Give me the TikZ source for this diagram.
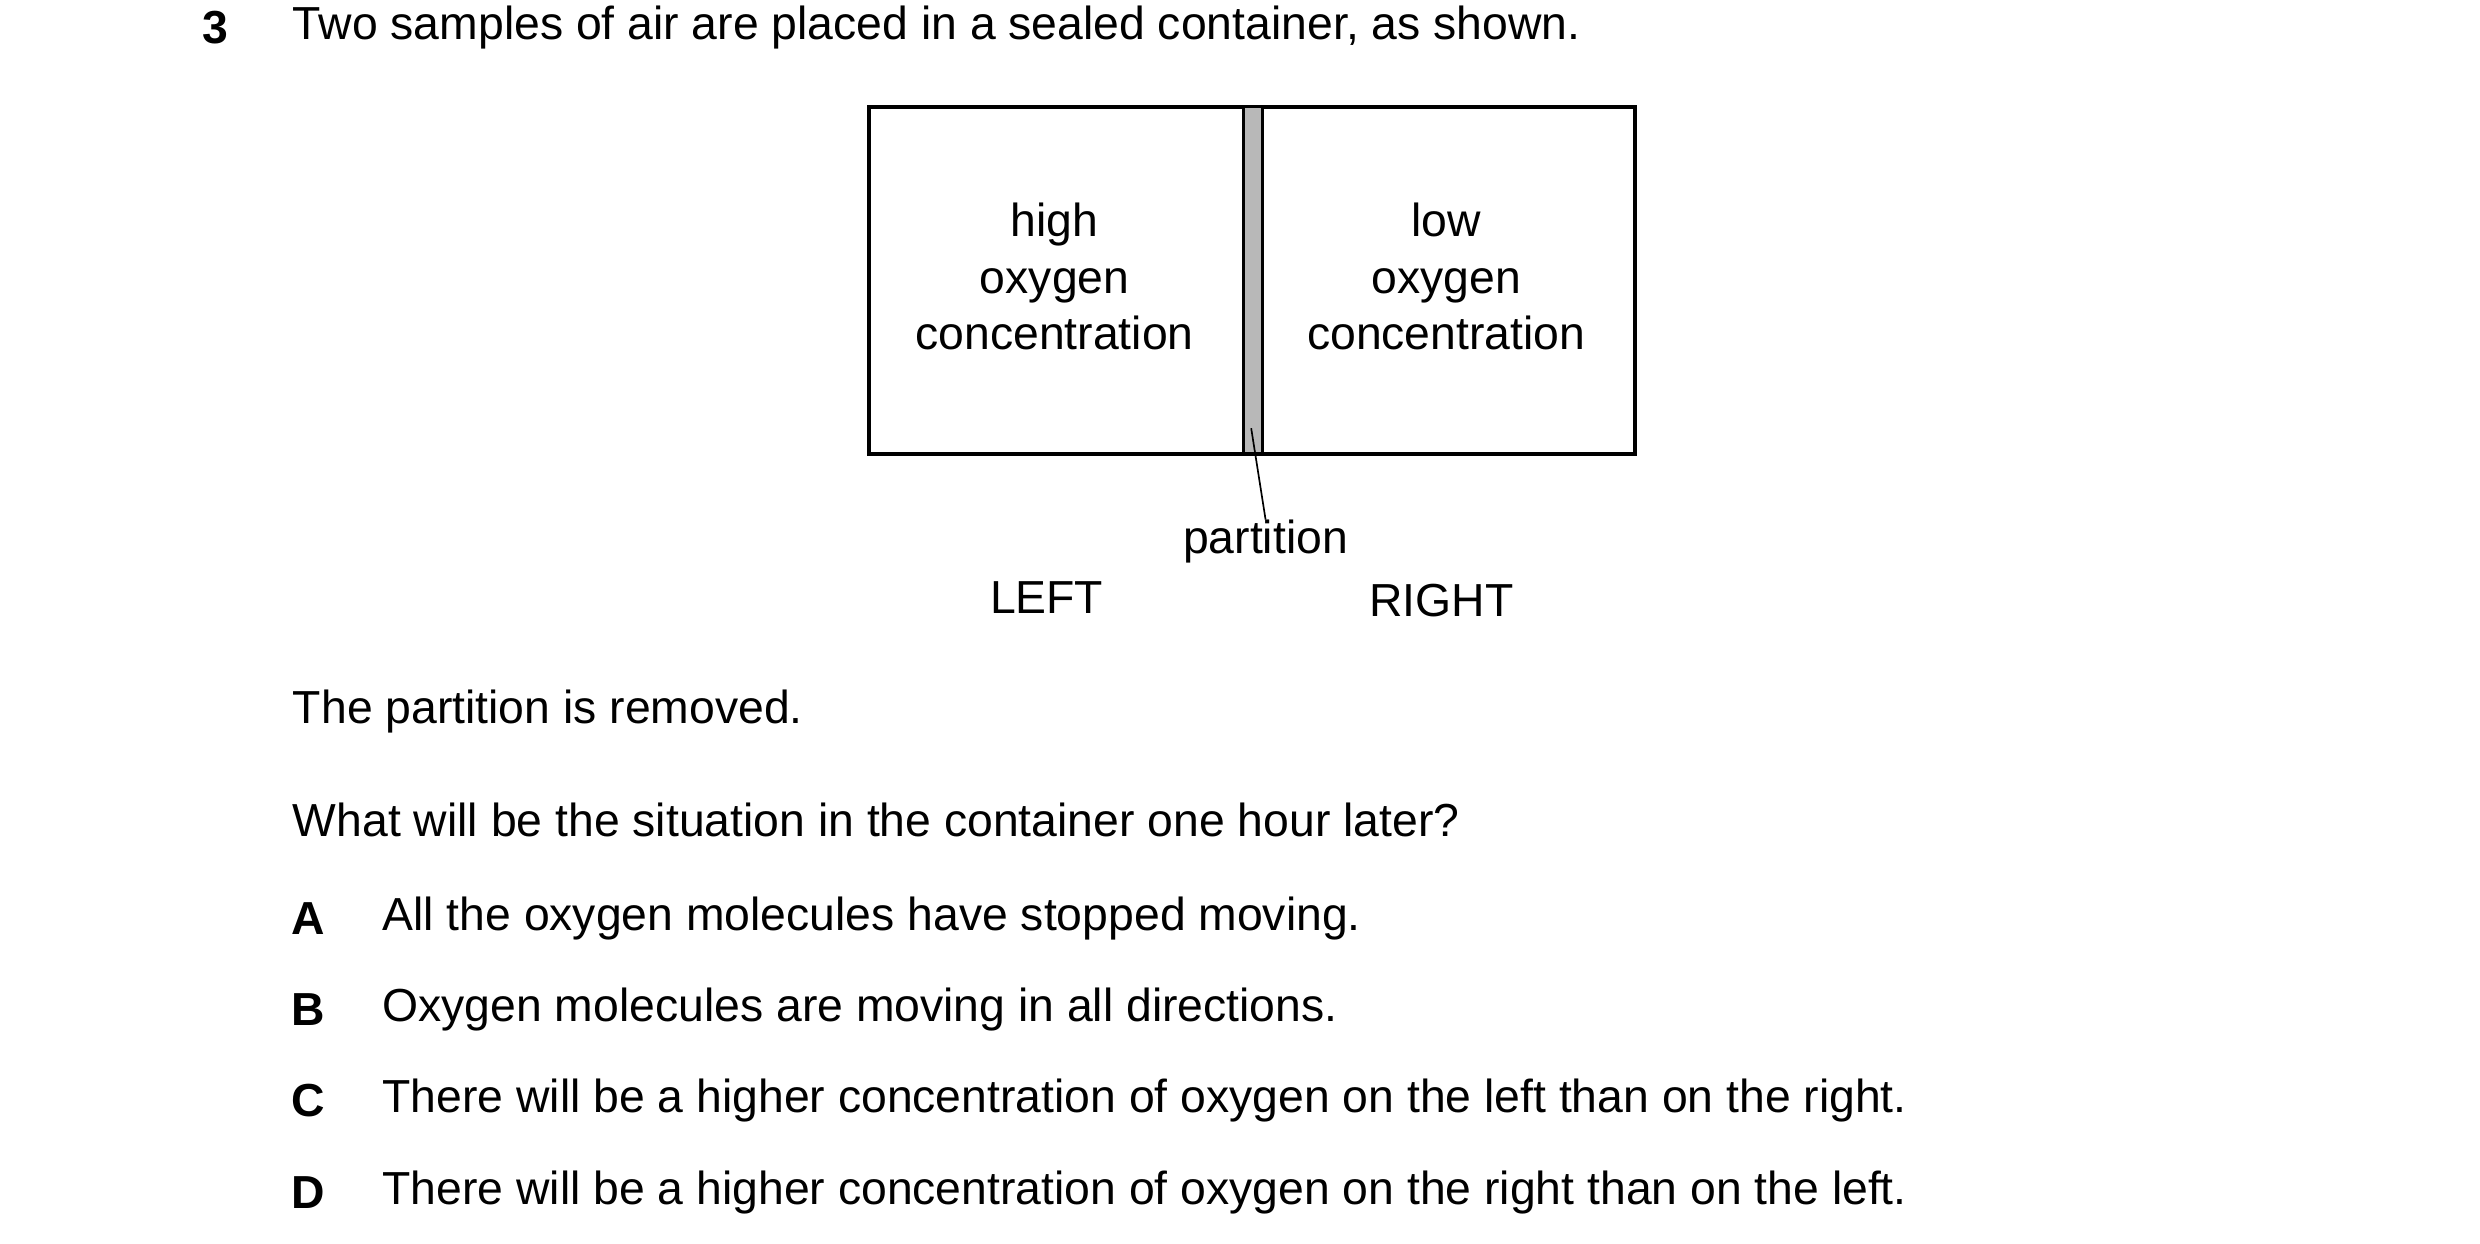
\documentclass[tikz,border=0pt]{standalone}
\usepackage{fontspec}
\setmainfont{Liberation Sans}
\definecolor{partgrey}{gray}{0.72}
\begin{document}
\begin{tikzpicture}[x=0.02cm,y=-0.02cm,
  txt/.style={anchor=west,inner sep=0pt,font=\fontsize{16.5}{20}\selectfont},
  lbl/.style={inner sep=0pt,font=\fontsize{16.5}{20}\selectfont,align=center},
  letter/.style={inner sep=0pt,font=\fontsize{16.5}{20}\selectfont\bfseries}]
\useasboundingbox (0,0) rectangle (1552,778.5);
% container
\draw[line width=1.3pt] (544,67) rectangle (1023,284);
\filldraw[fill=partgrey,line width=1pt] (778,67) rectangle (790,284);
\coordinate (tip) at (783,268);
\node[lbl] (leftgas) at (660,173) {high\\[0pt]oxygen\\[0pt]concentration};
\node[lbl] (rightgas) at (905,173) {low\\[0pt]oxygen\\[0pt]concentration};
\node[lbl] (part) at (792,339) {partition};
\draw[line width=0.6pt] (tip) -- (part.north);
\node[lbl] (left) at (655,374) {LEFT};
\node[lbl] (right) at (902,376) {RIGHT};
% question text
\node[letter] (num) at (135,17) {3};
\node[txt] (q) at (183,17) {Two samples of air are placed in a sealed container, as shown.};
\node[txt] (rem) at (183,445) {The partition is removed.};
\node[txt] (ask) at (183,513) {What will be the situation in the container one hour later?};
\foreach \l/\y/\t in {A/575/All the oxygen molecules have stopped moving.,
  B/632/Oxygen molecules are moving in all directions.,
  C/689/There will be a higher concentration of oxygen on the left than on the right.,
  D/746/There will be a higher concentration of oxygen on the right than on the left.}{
  \node[letter] (opt\l) at (193,\y) {\l};
  \node[txt] (ans\l) at (239,\y) {\t};
}
\end{tikzpicture}
\end{document}
